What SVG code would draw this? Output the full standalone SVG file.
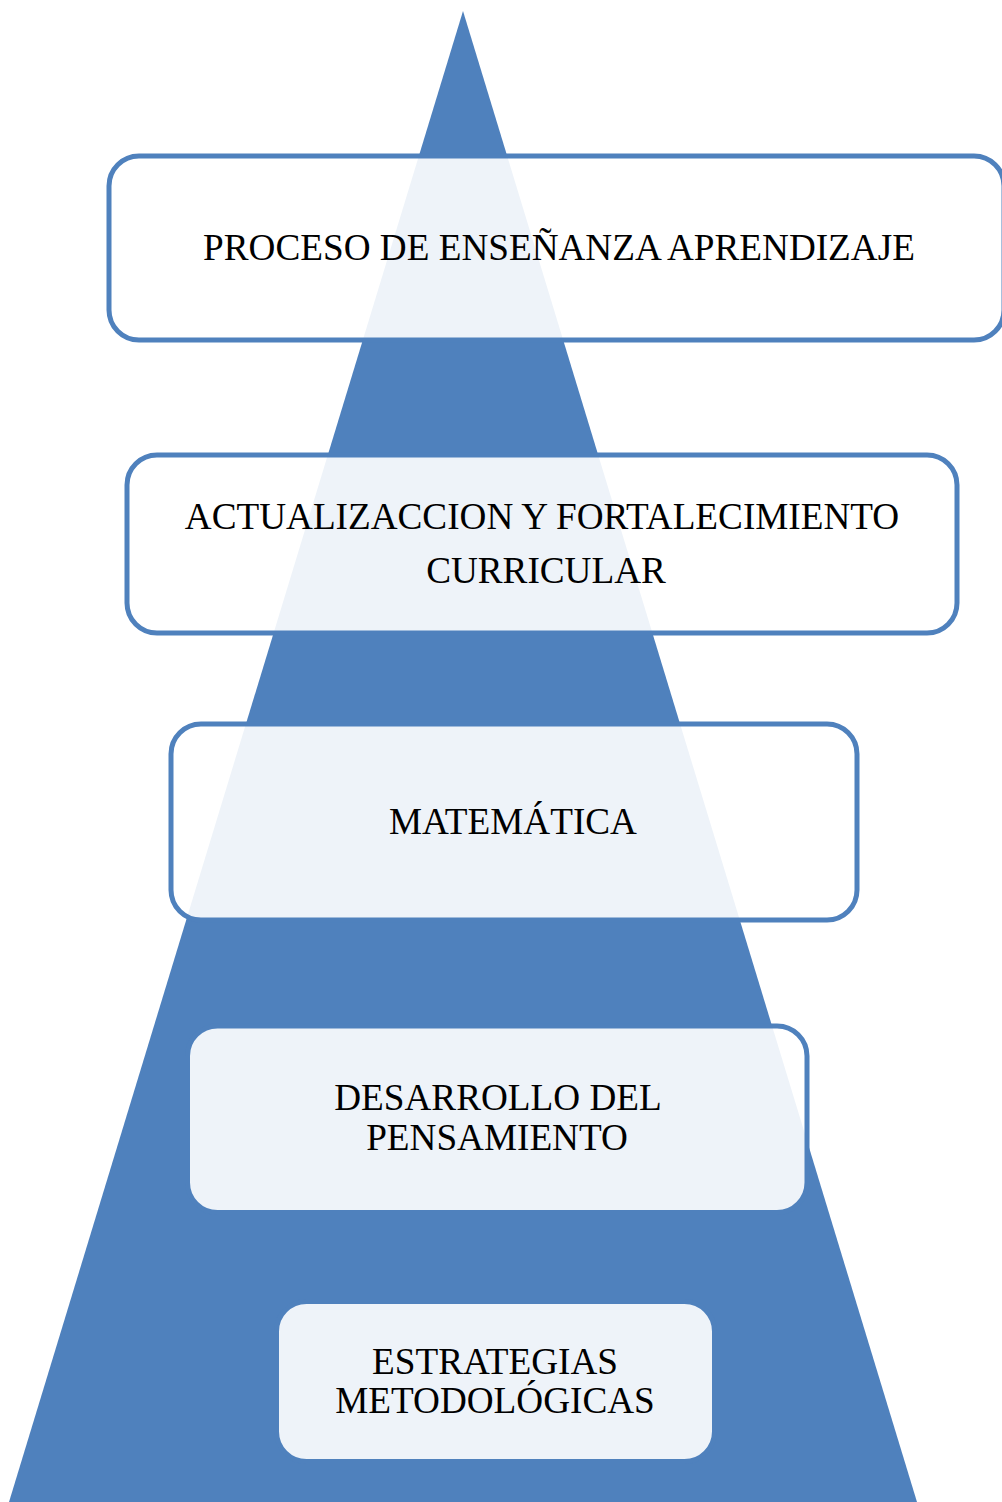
<svg xmlns="http://www.w3.org/2000/svg" width="1002" height="1502" viewBox="0 0 1002 1502">
<style>
.box{fill:#ffffff;fill-opacity:0.9;stroke:#4F81BD;stroke-width:5}
.t{font-family:"Liberation Serif","Times New Roman",serif;font-size:37.2px;fill:#000;text-anchor:middle}
</style>
<rect width="1002" height="1502" fill="#ffffff"/>
<g id="pyramid">
<polygon points="463,11 9,1502 917,1502" fill="#4F81BD"/>
</g>
<g id="connectors"></g>
<g id="node1">
<rect class="box" x="109" y="156" width="895" height="184" rx="30"/>
<text class="t" x="559" y="260">PROCESO DE ENSEÑANZA APRENDIZAJE</text>
</g>
<g id="node2">
<rect class="box" x="127" y="455" width="830" height="178" rx="30"/>
<text class="t" x="542" y="529">ACTUALIZACCION Y FORTALECIMIENTO</text>
<text class="t" x="546" y="583">CURRICULAR</text>
</g>
<g id="node3">
<rect class="box" x="171" y="724" width="686" height="196" rx="30"/>
<text class="t" x="513" y="834">MATEMÁTICA</text>
</g>
<g id="node4">
<rect class="box" x="187.5" y="1026" width="619.5" height="186.5" rx="30"/>
<text class="t" x="498" y="1110">DESARROLLO DEL</text>
<text class="t" x="497" y="1150">PENSAMIENTO</text>
</g>
<g id="node5">
<rect class="box" x="276.5" y="1301.5" width="438" height="160" rx="30"/>
<text class="t" x="495" y="1374">ESTRATEGIAS</text>
<text class="t" x="495" y="1413">METODOLÓGICAS</text>
</g>
</svg>
